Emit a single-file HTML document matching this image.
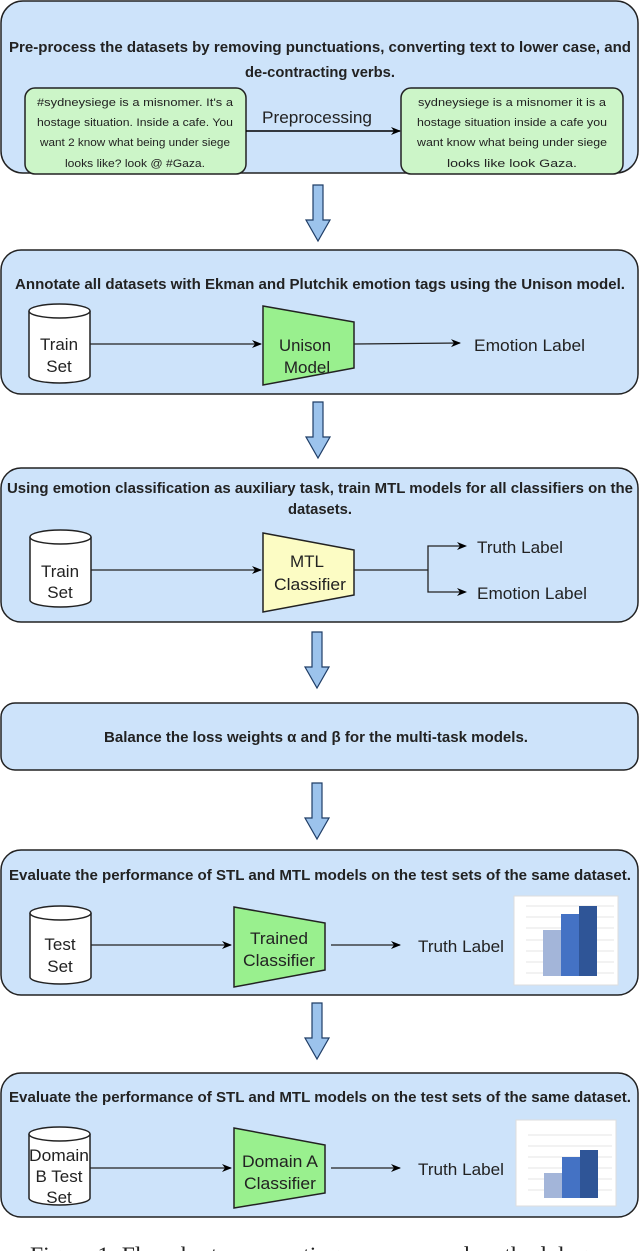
<!DOCTYPE html>
<html><head><meta charset="utf-8"><style>
html,body{margin:0;padding:0;background:#fff;width:640px;height:1251px;overflow:hidden}
svg{display:block}
.t{font-family:"Liberation Sans",sans-serif;font-weight:bold;font-size:15px;fill:#222}
.l{font-family:"Liberation Sans",sans-serif;font-size:17px;fill:#222}
.s{font-family:"Liberation Sans",sans-serif;font-size:11px;fill:#222}
</style></head><body>
<svg width="640" height="1251" viewBox="0 0 640 1251" xmlns="http://www.w3.org/2000/svg">
<defs>
<marker id="a" markerWidth="10" markerHeight="10" refX="9" refY="5" orient="auto" markerUnits="userSpaceOnUse"><path d="M0,1 L10,5 L0,9 L3,5 Z" fill="#000"/></marker>
<g id="down"><path d="M-5,0 H5 V35 H12 L0,56 L-12,35 H-5 Z" fill="#9cc3ec" stroke="#1f3d66" stroke-width="1.2"/></g>
</defs>
<!-- Box1 -->
<rect x="1" y="1" width="637" height="172" rx="22" fill="#cde3fa" stroke="#222" stroke-width="1.5"/>
<text class="t" x="320" y="52" text-anchor="middle" textLength="622" lengthAdjust="spacingAndGlyphs">Pre-process the datasets by removing punctuations, converting text to lower case, and</text>
<text class="t" x="320" y="77" text-anchor="middle" textLength="150" lengthAdjust="spacingAndGlyphs">de-contracting verbs.</text>
<rect x="25" y="88" width="221" height="86" rx="10" fill="#ccf5c8" stroke="#222" stroke-width="1.5"/>
<rect x="401" y="88" width="222" height="86" rx="10" fill="#ccf5c8" stroke="#222" stroke-width="1.5"/>
<g class="s" text-anchor="middle">
<text x="135" y="106" textLength="196" lengthAdjust="spacingAndGlyphs">#sydneysiege is a misnomer. It's a</text>
<text x="135" y="126" textLength="196" lengthAdjust="spacingAndGlyphs">hostage situation. Inside a cafe. You</text>
<text x="135" y="146" textLength="190" lengthAdjust="spacingAndGlyphs">want 2 know what being under siege</text>
<text x="135" y="167" textLength="140" lengthAdjust="spacingAndGlyphs">looks like? look @ #Gaza.</text>
<text x="512" y="106" textLength="188" lengthAdjust="spacingAndGlyphs">sydneysiege is a misnomer it is a</text>
<text x="512" y="126" textLength="190" lengthAdjust="spacingAndGlyphs">hostage situation inside a cafe you</text>
<text x="512" y="146" textLength="190" lengthAdjust="spacingAndGlyphs">want know what being under siege</text>
<text x="512" y="167" textLength="130" lengthAdjust="spacingAndGlyphs">looks like look Gaza.</text>
</g>
<text class="l" x="262" y="123" textLength="110" lengthAdjust="spacingAndGlyphs">Preprocessing</text>
<line x1="246" y1="131" x2="400" y2="131" stroke="#000" stroke-width="1.5" marker-end="url(#a)"/>
<use href="#down" x="318" y="185"/>
<!-- Box2 -->
<rect x="1" y="250" width="637" height="144" rx="20" fill="#cde3fa" stroke="#222" stroke-width="1.5"/>
<text class="t" x="320" y="289" text-anchor="middle" textLength="610" lengthAdjust="spacingAndGlyphs">Annotate all datasets with Ekman and Plutchik emotion tags using the Unison model.</text>
<g fill="#fff" stroke="#222" stroke-width="1.5">
<path d="M29,311 V376 A30.5,7 0 0 0 90,376 V311"/><ellipse cx="59.5" cy="311" rx="30.5" ry="7"/>
</g>
<text class="l" x="59" y="350" text-anchor="middle" textLength="38" lengthAdjust="spacingAndGlyphs">Train</text><text class="l" x="59" y="372" text-anchor="middle">Set</text>
<line x1="90" y1="344" x2="261" y2="344" stroke="#222" stroke-width="1.3" marker-end="url(#a)"/>
<path d="M263,306 L354,322 L354,368 L263,385 Z" fill="#99f08e" stroke="#222" stroke-width="1.5"/>
<text class="l" x="305" y="351" text-anchor="middle" textLength="52" lengthAdjust="spacingAndGlyphs">Unison</text><text class="l" x="307" y="373" text-anchor="middle">Model</text>
<line x1="354" y1="344" x2="460" y2="343" stroke="#222" stroke-width="1.3" marker-end="url(#a)"/>
<text class="l" x="474" y="351" textLength="111" lengthAdjust="spacingAndGlyphs">Emotion Label</text>
<use href="#down" x="318" y="402"/>
<!-- Box3 -->
<rect x="1" y="468" width="637" height="154" rx="20" fill="#cde3fa" stroke="#222" stroke-width="1.5"/>
<text class="t" x="320" y="493" text-anchor="middle" textLength="626" lengthAdjust="spacingAndGlyphs">Using emotion classification as auxiliary task, train MTL models for all classifiers on the</text>
<text class="t" x="320" y="514" text-anchor="middle" textLength="64" lengthAdjust="spacingAndGlyphs">datasets.</text>
<g fill="#fff" stroke="#222" stroke-width="1.5">
<path d="M30,537 V600 A30.5,7 0 0 0 91,600 V537"/><ellipse cx="60.5" cy="537" rx="30.5" ry="7"/>
</g>
<text class="l" x="60" y="577" text-anchor="middle" textLength="38" lengthAdjust="spacingAndGlyphs">Train</text><text class="l" x="60" y="598" text-anchor="middle">Set</text>
<line x1="91" y1="570" x2="261" y2="570" stroke="#222" stroke-width="1.3" marker-end="url(#a)"/>
<path d="M263,533 L354,550 L354,595 L263,612 Z" fill="#fcfcc4" stroke="#222" stroke-width="1.5"/>
<text class="l" x="307" y="567" text-anchor="middle">MTL</text><text class="l" x="310" y="590" text-anchor="middle" textLength="72" lengthAdjust="spacingAndGlyphs">Classifier</text>
<path d="M354,570 H428 V546 H465 M428,570 V592 H465" fill="none" stroke="#222" stroke-width="1.3"/>
<line x1="455" y1="546" x2="466" y2="546" stroke="#222" marker-end="url(#a)"/>
<line x1="455" y1="592" x2="466" y2="592" stroke="#222" marker-end="url(#a)"/>
<text class="l" x="477" y="553" textLength="86" lengthAdjust="spacingAndGlyphs">Truth Label</text>
<text class="l" x="477" y="599" textLength="110" lengthAdjust="spacingAndGlyphs">Emotion Label</text>
<use href="#down" x="317" y="632"/>
<!-- Box4 -->
<rect x="1" y="703" width="637" height="67" rx="14" fill="#cde3fa" stroke="#222" stroke-width="1.5"/>
<text class="t" x="316" y="742" text-anchor="middle" textLength="424" lengthAdjust="spacingAndGlyphs">Balance the loss weights α and β for the multi-task models.</text>
<use href="#down" x="317" y="783"/>
<!-- Box5 -->
<rect x="1" y="850" width="637" height="145" rx="20" fill="#cde3fa" stroke="#222" stroke-width="1.5"/>
<text class="t" x="320" y="880" text-anchor="middle" textLength="622" lengthAdjust="spacingAndGlyphs">Evaluate the performance of STL and MTL models on the test sets of the same dataset.</text>
<g fill="#fff" stroke="#222" stroke-width="1.5">
<path d="M30,913 V977 A30.5,7 0 0 0 91,977 V913"/><ellipse cx="60.5" cy="913" rx="30.5" ry="7"/>
</g>
<text class="l" x="60" y="950" text-anchor="middle">Test</text><text class="l" x="60" y="972" text-anchor="middle">Set</text>
<line x1="91" y1="945" x2="231" y2="945" stroke="#222" stroke-width="1.3" marker-end="url(#a)"/>
<path d="M234,907 L325,923 L325,970 L234,987 Z" fill="#99f08e" stroke="#222" stroke-width="1.5"/>
<text class="l" x="279" y="944" text-anchor="middle" textLength="58" lengthAdjust="spacingAndGlyphs">Trained</text><text class="l" x="279" y="966" text-anchor="middle" textLength="72" lengthAdjust="spacingAndGlyphs">Classifier</text>
<line x1="331" y1="945" x2="400" y2="945" stroke="#222" stroke-width="1.3" marker-end="url(#a)"/>
<text class="l" x="418" y="952" textLength="86" lengthAdjust="spacingAndGlyphs">Truth Label</text>
<g>
<rect x="514" y="896" width="104" height="89" fill="#fff" stroke="#ddd"/>
<g stroke="#e4e4e4" stroke-width="1"><line x1="526" y1="906" x2="614" y2="906"/><line x1="526" y1="917" x2="614" y2="917"/><line x1="526" y1="928" x2="614" y2="928"/><line x1="526" y1="940" x2="614" y2="940"/><line x1="526" y1="951" x2="614" y2="951"/><line x1="526" y1="962" x2="614" y2="962"/><line x1="526" y1="973" x2="614" y2="973"/></g>
<rect x="543" y="930" width="18" height="46" fill="#a3b5d9"/><rect x="561" y="914" width="18" height="62" fill="#4472c4"/><rect x="579" y="906" width="18" height="70" fill="#2f5597"/>
</g>
<use href="#down" x="317" y="1003"/>
<!-- Box6 -->
<rect x="1" y="1073" width="637" height="144" rx="20" fill="#cde3fa" stroke="#222" stroke-width="1.5"/>
<text class="t" x="320" y="1102" text-anchor="middle" textLength="622" lengthAdjust="spacingAndGlyphs">Evaluate the performance of STL and MTL models on the test sets of the same dataset.</text>
<g fill="#fff" stroke="#222" stroke-width="1.5">
<path d="M29,1134 V1198 A30.5,7 0 0 0 90,1198 V1134"/><ellipse cx="59.5" cy="1134" rx="30.5" ry="7"/>
</g>
<text class="l" x="59" y="1161" text-anchor="middle" textLength="60" lengthAdjust="spacingAndGlyphs">Domain</text><text class="l" x="59" y="1182" text-anchor="middle">B Test</text><text class="l" x="59" y="1203" text-anchor="middle">Set</text>
<line x1="90" y1="1168" x2="231" y2="1168" stroke="#222" stroke-width="1.3" marker-end="url(#a)"/>
<path d="M234,1128 L325,1145 L325,1193 L234,1208 Z" fill="#99f08e" stroke="#222" stroke-width="1.5"/>
<text class="l" x="280" y="1167" text-anchor="middle" textLength="76" lengthAdjust="spacingAndGlyphs">Domain A</text><text class="l" x="280" y="1189" text-anchor="middle" textLength="72" lengthAdjust="spacingAndGlyphs">Classifier</text>
<line x1="331" y1="1168" x2="400" y2="1168" stroke="#222" stroke-width="1.3" marker-end="url(#a)"/>
<text class="l" x="418" y="1175" textLength="86" lengthAdjust="spacingAndGlyphs">Truth Label</text>
<g>
<rect x="516" y="1120" width="100" height="86" fill="#fff" stroke="#ddd"/>
<g stroke="#e4e4e4" stroke-width="1"><line x1="528" y1="1135" x2="612" y2="1135"/><line x1="528" y1="1146" x2="612" y2="1146"/><line x1="528" y1="1157" x2="612" y2="1157"/><line x1="528" y1="1168" x2="612" y2="1168"/><line x1="528" y1="1179" x2="612" y2="1179"/><line x1="528" y1="1190" x2="612" y2="1190"/></g>
<rect x="544" y="1173" width="18" height="25" fill="#a3b5d9"/><rect x="562" y="1157" width="18" height="41" fill="#4472c4"/><rect x="580" y="1150" width="18" height="48" fill="#2f5597"/>
</g>
<text x="30" y="1262" font-family="Liberation Serif,serif" font-size="22" fill="#222" textLength="570" lengthAdjust="spacingAndGlyphs">Figure 1: Flowchart representing our proposed methodology</text>
</svg>
</body></html>
